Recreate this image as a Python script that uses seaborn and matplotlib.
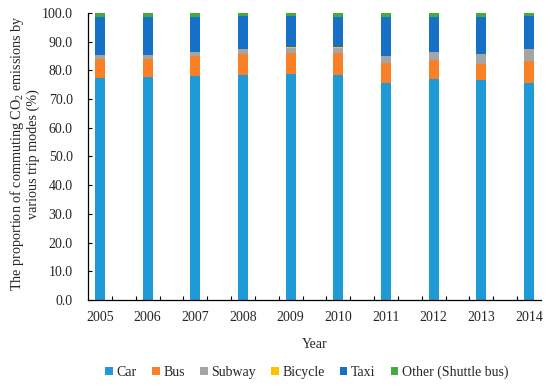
import numpy as np
import pandas as pd
import seaborn as sns
import matplotlib.pyplot as plt
from matplotlib.patches import Patch

# Data (% share of commuting CO2 emissions)
years = ['2005', '2006', '2007', '2008', '2009', '2010', '2011', '2012', '2013', '2014']
car = [77.5, 77.7, 78.2, 78.5, 78.9, 78.5, 75.6, 76.9, 76.7, 75.6]
bus = [6.5, 6.3, 6.9, 7.3, 7.2, 7.5, 7.0, 6.6, 5.6, 7.8]
subway = [1.3, 1.4, 1.3, 1.5, 1.8, 1.9, 2.4, 2.8, 3.4, 4.1]
bicycle = [0.1, 0.1, 0.1, 0.1, 0.1, 0.1, 0.1, 0.1, 0.1, 0.1]
taxi = [13.1, 13.1, 12.2, 11.7, 11.1, 10.5, 13.4, 12.2, 12.8, 11.5]
other = [1.5, 1.4, 1.3, 0.9, 0.9, 1.5, 1.5, 1.4, 1.4, 0.9]

modes = ['Car', 'Bus', 'Subway', 'Bicycle', 'Taxi', 'Other (Shuttle bus)']
colors = ['#1E9BD7', '#F98026', '#A5A5A5', '#FFC000', '#1670C6', '#44AA3F']

df = pd.DataFrame({'Year': years, 'Car': car, 'Bus': bus, 'Subway': subway,
                   'Bicycle': bicycle, 'Taxi': taxi, 'Other (Shuttle bus)': other})
cum = df[modes].cumsum(axis=1)
cum['Year'] = df['Year']

sns.set_style("ticks")
plt.rcParams['font.family'] = ['Liberation Serif', 'DejaVu Serif']
plt.rcParams['mathtext.default'] = 'regular'

fig = plt.figure(figsize=(5.5, 3.88), dpi=100)
ax = fig.add_axes([0.16, 0.2268, 0.8236, 0.7397])

# stacked bars: draw cumulative totals from the top layer down
for mode, c in reversed(list(zip(modes, colors))):
    sns.barplot(data=cum, x='Year', y=mode, color=c, saturation=1,
                width=0.21, linewidth=0, ax=ax, order=years)

ax.set_xlim(-0.25, 9.25)
ax.set_ylim(0, 100)
ax.set_yticks(np.arange(0, 101, 10))
ax.set_yticklabels([f'{v:.1f}' for v in np.arange(0, 101, 10)])
ax.set_xticks(np.arange(10))
ax.set_xticklabels(years)
ax.set_xticks(np.arange(0.25, 9.0, 0.5), minor=True)
ax.tick_params(axis='x', which='major', length=0, pad=8, labelsize=10)
ax.tick_params(axis='x', which='minor', direction='in', length=3, width=0.8, color='black')
ax.tick_params(axis='y', direction='in', length=3, width=0.8, color='black',
               labelsize=10, pad=11)

sns.despine(ax=ax)
for s in ['left', 'bottom']:
    ax.spines[s].set_color('black')
    ax.spines[s].set_linewidth(0.9)

ax.set_xlabel('Year', fontsize=10, labelpad=10)
ax.set_ylabel('The proportion of commuting CO$_2$ emissions by\nvarious trip modes (%)',
              fontsize=10.2, linespacing=1.1)
ax.yaxis.set_label_coords(-0.105, 0.51)

handles = [Patch(facecolor=c, edgecolor='none', label=m) for m, c in zip(modes, colors)]
fig.legend(handles=handles, loc='center', bbox_to_anchor=(0.558, 0.04), ncol=6,
           frameon=False, fontsize=10, handlelength=0.55, handleheight=0.55,
           handletextpad=0.25, columnspacing=1.1)

fig.savefig('out.png', dpi=100)
